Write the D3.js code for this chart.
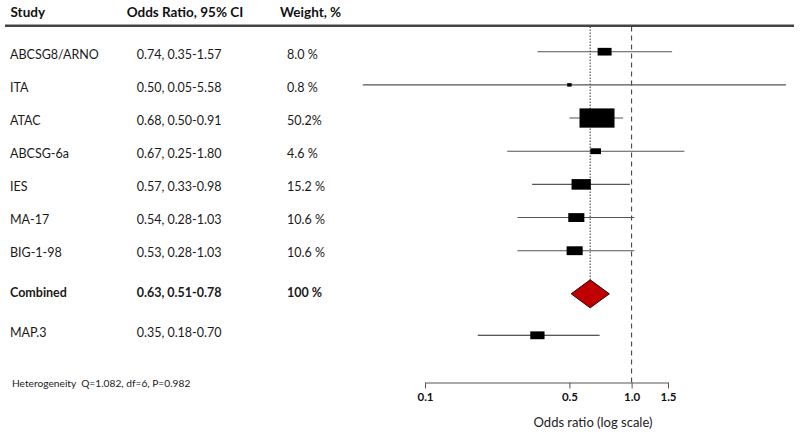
<!DOCTYPE html>
<html><head><meta charset="utf-8">
<script src="https://cdn.jsdelivr.net/npm/d3@7"></script>
<style>body{margin:0;background:#fff} svg{display:block} text{font-family:Lato,'DejaVu Sans',sans-serif}</style>
</head><body><svg id="c" width="800" height="435"></svg>
<script>
const studies = ["ABCSG8/ARNO","ITA","ATAC","ABCSG-6a","IES","MA-17","BIG-1-98","Combined","MAP.3"];
const oddsRatio = [0.74,0.50,0.68,0.67,0.57,0.54,0.53,0.63,0.35];
const ciLow  = [0.35,0.05,0.50,0.25,0.33,0.28,0.28,0.51,0.18];
const ciHigh = [1.57,5.58,0.91,1.80,0.98,1.03,1.03,0.78,0.70];
const weightLabels = ["8.0 %","0.8 %","50.2%","4.6 %","15.2 %","10.6 %","10.6 %","100 %",""];
const boxWeight = [8.0,0.8,50.2,4.6,15.2,10.6,10.6,null,8.3];
const rowPos  = [0,1,2,3,4,5,6,7.3,8.55];
const textPos = [0,1,2,3,4,5,6,7.22,8.44];
const combinedIndex = 7;
const axisTicks = [0.1,0.5,1.0,1.5];
const headers = ["Study","Odds Ratio, 95% CI","Weight, %"];
const heterogeneity = "Heterogeneity  Q=1.082, df=6, P=0.982";
const axisTitle = "Odds ratio (log scale)";

const svg = d3.select("#c");
svg.append("rect").attr("width",800).attr("height",435).attr("fill","#fff");

const x = d3.scaleLog().domain([0.1,1.5]).range([425,668]);
const y = d3.scaleLinear().domain([0,1]).range([51.7,84.87]);
const yT = d3.scaleLinear().domain([0,1]).range([59.3,92.2]);
const boxW = d3.scaleSqrt().domain([0,50.2]).range([0,35]);
const axisY = 382.5;
const fs = 12.5;

// headers
const colX = [10.5,126.7,280];
svg.selectAll("text.hdr").data(headers).join("text").attr("class","hdr")
  .attr("x",(d,i)=>colX[i]).attr("y",17).attr("font-size",13.5).attr("font-weight","bold").attr("fill","#111").text(d=>d);
svg.append("line").attr("x1",5).attr("x2",794).attr("y1",25.7).attr("y2",25.7)
  .attr("stroke","#444").attr("stroke-width",2.5);

const rows = studies.map((s,i)=>({s,i,or:oddsRatio[i],lo:ciLow[i],hi:ciHigh[i],w:weightLabels[i],bw:boxWeight[i]}));
const isC = d=>d.i===combinedIndex;

// text columns
const g = svg.append("g");
g.selectAll("text.st").data(rows).join("text").attr("x",10).attr("y",d=>yT(textPos[d.i]))
  .attr("font-size",fs).attr("font-weight",d=>isC(d)?"bold":"normal").attr("fill","#1a1a1a").text(d=>d.s);
g.selectAll("text.ci").data(rows).join("text").attr("x",136.7).attr("y",d=>yT(textPos[d.i]))
  .attr("font-size",fs).attr("font-weight",d=>isC(d)?"bold":"normal").attr("fill","#1a1a1a")
  .text(d=>`${d.or.toFixed(2)}, ${d.lo.toFixed(2)}-${d.hi.toFixed(2)}`);
g.selectAll("text.wt").data(rows).join("text").attr("x",287).attr("y",d=>yT(textPos[d.i]))
  .attr("font-size",fs).attr("font-weight",d=>isC(d)?"bold":"normal").attr("fill","#1a1a1a").text(d=>d.w);

svg.append("text").attr("x",12).attr("y",386.5).attr("font-size",10.2).attr("fill","#222")
  .attr("xml:space","preserve").style("white-space","pre").text(heterogeneity);

// reference lines
const comb = rows[combinedIndex];
const diamondH = 14;
svg.append("line").attr("x1",x(comb.or)).attr("x2",x(comb.or)).attr("y1",26.5).attr("y2",y(rowPos[combinedIndex])-diamondH)
  .attr("stroke","#333").attr("stroke-width",1).attr("stroke-dasharray","1.5,1.5");
svg.append("line").attr("x1",x(1)).attr("x2",x(1)).attr("y1",26.5).attr("y2",axisY)
  .attr("stroke","#333").attr("stroke-width",1).attr("stroke-dasharray","5,4");

// CI lines & boxes
const studyRows = rows.filter(d=>!isC(d));
svg.selectAll("line.cil").data(studyRows).join("line")
  .attr("x1",d=>x(d.lo)).attr("x2",d=>x(d.hi)).attr("y1",d=>y(rowPos[d.i])).attr("y2",d=>y(rowPos[d.i]))
  .attr("stroke",d=>d.i===8?"#222":"#555").attr("stroke-width",1.1);
svg.selectAll("rect.box").data(studyRows).join("rect")
  .attr("x",d=>x(d.or)-boxW(d.bw)/2).attr("width",d=>boxW(d.bw))
  .attr("y",d=>y(rowPos[d.i])-Math.max(3.5,boxW(d.bw)*0.55)/2).attr("height",d=>Math.max(3.5,boxW(d.bw)*0.55))
  .attr("fill","#000");

// diamond
const cy = y(rowPos[combinedIndex]);
svg.append("path").attr("d",`M${x(comb.lo)},${cy}L${x(comb.or)},${cy-diamondH}L${x(comb.hi)},${cy}L${x(comb.or)},${cy+diamondH}Z`)
  .attr("fill","#c00000").attr("stroke","#2a0000").attr("stroke-width",1);

// axis
const ax = svg.append("g").attr("transform",`translate(0,${axisY})`)
  .call(d3.axisBottom(x).tickValues(axisTicks).tickFormat(d3.format(".1f")).tickSize(6).tickSizeOuter(0).tickPadding(4.5));
ax.select(".domain").attr("stroke","#555");
ax.selectAll(".tick line").attr("stroke","#555");
ax.selectAll(".tick text").attr("font-family","Lato,sans-serif").attr("font-size",11.5).attr("font-weight","bold").attr("fill","#111");
svg.append("text").attr("x",593).attr("y",427).attr("text-anchor","middle").attr("font-size",13).attr("fill","#222").text(axisTitle);
</script></body></html>
